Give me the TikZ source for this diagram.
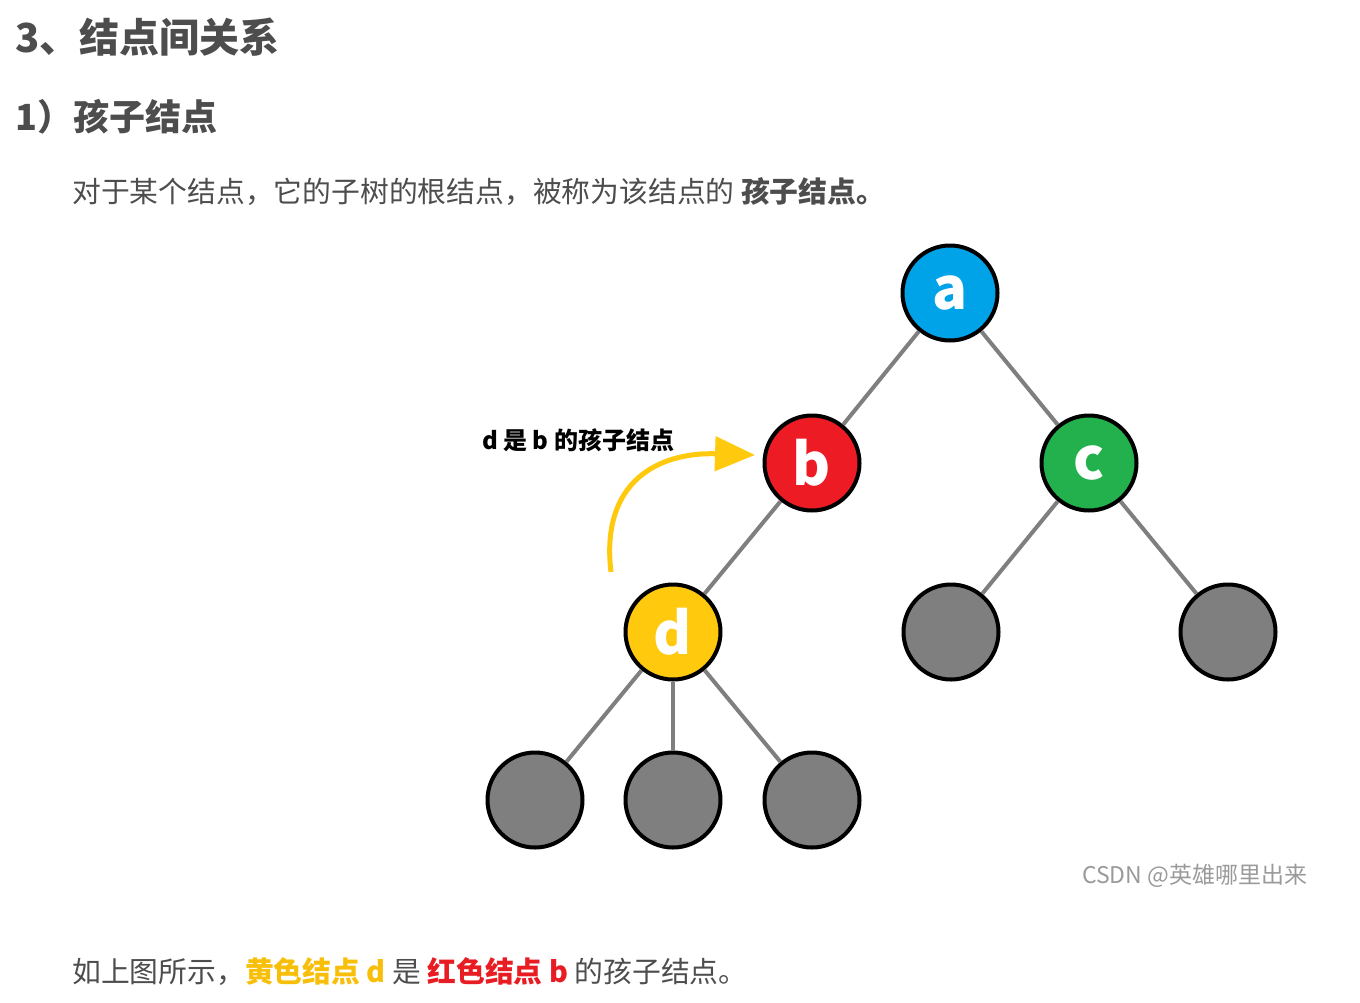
\documentclass[tikz,border=0pt]{standalone}
\usepackage{fontspec}
\setmainfont{Noto Sans CJK SC}
\usetikzlibrary{arrows.meta}
\definecolor{txt}{HTML}{4D4D4D}
\definecolor{nblue}{HTML}{00A2E8}
\definecolor{nred}{HTML}{ED1C24}
\definecolor{ngreen}{HTML}{22B14C}
\definecolor{nyel}{HTML}{FFC90E}
\definecolor{ngray}{HTML}{7F7F7F}
\definecolor{wm}{HTML}{9A9A9A}
\definecolor{tyel}{HTML}{F8BF0A}
\definecolor{tred}{HTML}{E81C23}
\begin{document}
\begin{tikzpicture}[x=1pt,y=-1pt,
  tnode/.style={circle,draw=black,line width=4pt,minimum size=95pt,inner sep=0pt,
    text=white,font=\fontsize{58}{60}\selectfont\bfseries},
  edge/.style={draw=ngray,line width=4pt},
  txtline/.style={anchor=west,inner sep=0pt,text=txt}]
\useasboundingbox (0,0) rectangle (1360,1002);
% texts
\node[txtline,font=\fontsize{40}{44}\selectfont\bfseries] (title) at (15,37) {3、结点间关系};
\node[txtline,font=\fontsize{36}{40}\selectfont\bfseries] (sub) at (15,117) {1）孩子结点};
\node[txtline,font=\fontsize{28.8}{32}\selectfont] (body) at (72,192) {对于某个结点，它的子树的根结点，被称为该结点的 \textbf{孩子结点。}};
\node[txtline,font=\fontsize{28.8}{32}\selectfont] (bottom) at (72,972) {如上图所示，{\color{tyel}\bfseries 黄色结点 d} 是 {\color{tred}\bfseries 红色结点 b} 的孩子结点。};
\node[anchor=west,inner sep=0pt,text=black,font=\fontsize{24}{26}\selectfont\bfseries] (lbl) at (482,440) {d 是 b 的孩子结点};
\node[anchor=west,inner sep=0pt,text=wm,font=\fontsize{23}{26}\selectfont] (mark) at (1082,876) {CSDN @英雄哪里出来};
% tree nodes
\node[tnode,fill=nblue] (a) at (950,293) {a};
\node[tnode,fill=nred] (b) at (812,463) {b};
\node[tnode,fill=ngreen] (c) at (1089,463) {c};
\node[tnode,fill=nyel] (d) at (673,632) {d};
\node[tnode,fill=ngray] (c1) at (951,632) {};
\node[tnode,fill=ngray] (c2) at (1228,632) {};
\node[tnode,fill=ngray] (d1) at (535,800) {};
\node[tnode,fill=ngray] (d2) at (673,800) {};
\node[tnode,fill=ngray] (d3) at (812,800) {};
% edges
\draw[edge] (a) -- (b);
\draw[edge] (a) -- (c);
\draw[edge] (b) -- (d);
\draw[edge] (c) -- (c1);
\draw[edge] (c) -- (c2);
\draw[edge] (d) -- (d1);
\draw[edge] (d) -- (d2);
\draw[edge] (d) -- (d3);
% yellow arrow
\coordinate (as) at (611,572);
\coordinate (ae) at (755,455);
\draw[draw=nyel,line width=5pt,-{Triangle[length=40pt,width=34pt]}] (as) .. controls (600,480) and (660,452) .. (ae);
\end{tikzpicture}
\end{document}
